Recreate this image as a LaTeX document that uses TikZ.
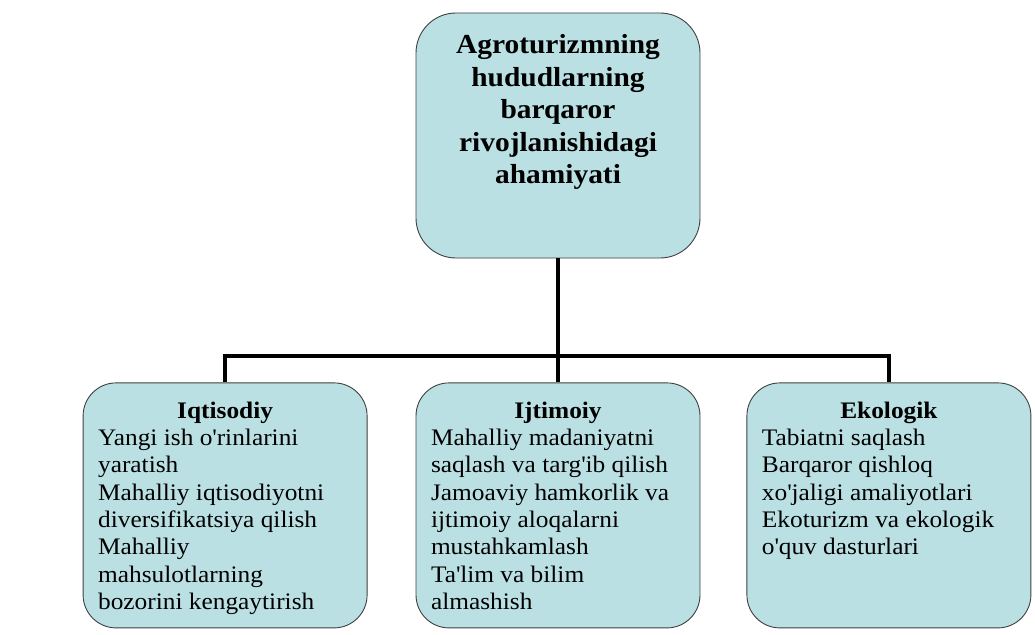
\documentclass[tikz,border=0pt]{standalone}
\usepackage{fontspec}
\setmainfont{Liberation Serif}[FakeStretch=1.07]
\usetikzlibrary{positioning}
\definecolor{cardblue}{RGB}{187,224,227}
\definecolor{cardedge}{RGB}{64,64,64}
\newcommand{\uzq}{\textquotesingle}
\newcommand{\cardtext}[2]{\parbox[c][207pt][t]{254pt}{\fontsize{23.7}{27.3}\selectfont{\centering\textbf{#1}\par}\raggedright #2}}

\begin{document}
\begin{tikzpicture}[x=1pt, y=1pt,
    card/.style={draw=cardedge, line width=0.9pt, fill=cardblue, inner sep=0pt, minimum width=284pt, minimum height=245pt, rounded corners=33pt},
    link/.style={line width=3.5pt, black}]

        \useasboundingbox (0,0) rectangle (1035,-634);

        % Nodes
        \node[card, rounded corners=40pt] (goal) at (558,-135.5) {\parbox[c][202pt][t]{254pt}{\centering\fontsize{27.5}{32.5}\selectfont\bfseries Agroturizmning\\ hududlarning\\ barqaror\\ rivojlanishidagi\\ ahamiyati}};
        \node[card, below=124pt of goal] (ijtimoiy) {\cardtext{Ijtimoiy}{Mahalliy madaniyatni\\ saqlash va targ\uzq ib qilish\\ Jamoaviy hamkorlik va\\ ijtimoiy aloqalarni\\ mustahkamlash\\ Ta\uzq lim va bilim\\ almashish}};
        \node[card, left=48pt of ijtimoiy] (iqtisodiy) {\cardtext{Iqtisodiy}{Yangi ish o\uzq rinlarini\\ yaratish\\ Mahalliy iqtisodiyotni\\ diversifikatsiya qilish\\ Mahalliy\\ mahsulotlarning\\ bozorini kengaytirish}};
        \node[card, right=46pt of ijtimoiy] (ekologik) {\cardtext{Ekologik}{Tabiatni saqlash\\ Barqaror qishloq\\ xo\uzq jaligi amaliyotlari\\ Ekoturizm va ekologik\\ o\uzq quv dasturlari}};
        \coordinate (bus) at (558,-356);

        % Connectors
        \draw[link] (goal) -- (ijtimoiy);
        \draw[link] (iqtisodiy.north) |- (bus) -| (ekologik.north);

\end{tikzpicture}
\end{document}
